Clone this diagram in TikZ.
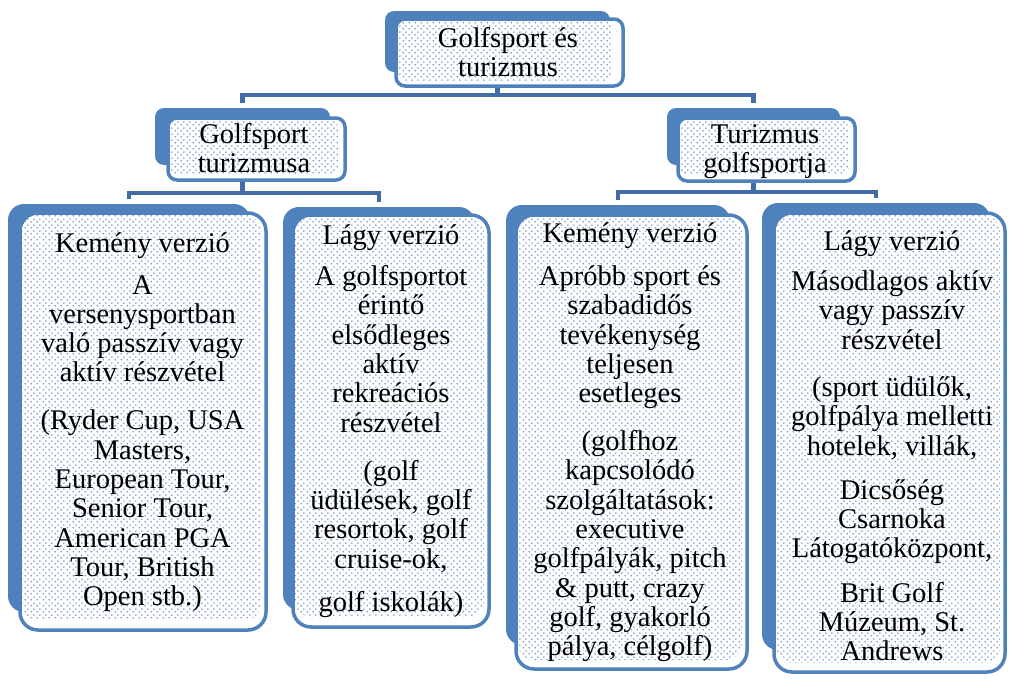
\documentclass[tikz,border=0pt]{standalone}
\usepackage{fontspec}
\setmainfont{Liberation Serif}
\usetikzlibrary{fit,patterns.meta}

\definecolor{boxblue}{RGB}{79,129,189}
\definecolor{linkblue}{RGB}{66,108,166}
\definecolor{dotblue}{RGB}{112,150,210}

% light staggered dot texture for the box interiors
\tikzdeclarepattern{
  name=softdots,
  type=uncolored,
  bottom left={(0pt,0pt)},
  top right={(6pt,6pt)},
  tile size={(6pt,6pt)},
  code={
    \pgfpathcircle{\pgfqpoint{1.5pt}{1.5pt}}{1.0pt}
    \pgfpathcircle{\pgfqpoint{4.5pt}{4.5pt}}{1.0pt}
    \pgfusepath{fill}
  }
}

\newcommand\lineraise{\rule{0pt}{22pt}}

\tikzset{
  backshape/.style={fill=boxblue, draw=none, inner sep=0pt, outer sep=0pt},
  frontbox/.style={fill=white, draw=boxblue, line width=3.5pt, inner sep=0pt, outer sep=0pt},
  dotarea/.style={pattern=softdots, pattern color=dotblue, draw=none, inner sep=0pt, outer sep=0pt},
  boxtext/.style={align=center, inner sep=0pt, anchor=north,
    font=\fontsize{28.5}{29.3}\selectfont},
  conn/.style={draw=linkblue, line width=4.5pt},
}

\begin{document}
\begin{tikzpicture}[x=1pt,y=-1pt]
\useasboundingbox (0,0) rectangle (1010,678);

% ---- connectors (drawn first, boxes sit on top) ----
\coordinate (busTop) at (497.5,95);
\coordinate (busL) at (242.5,193);
\coordinate (busR) at (753.5,192);

\node[backshape, rounded corners=9pt, fit={(385,11) (610,72)}] (topB) {};
\node[backshape, rounded corners=9pt, fit={(155,108) (330,165)}] (l2lB) {};
\node[backshape, rounded corners=9pt, fit={(667,108) (840,165)}] (l2rB) {};
\node[backshape, rounded corners=16pt, fit={(8,204) (250,612)}] (k1B) {};
\node[backshape, rounded corners=16pt, fit={(283,207) (475,610)}] (l1B) {};
\node[backshape, rounded corners=16pt, fit={(506,205) (730,645)}] (k2B) {};
\node[backshape, rounded corners=16pt, fit={(762,203) (990,650)}] (l2B) {};

\draw[conn] (topB.south) -- (topB.south |- busTop);
\draw[conn] ([yshift=5pt]l2lB.north) |- (busTop) -| ([yshift=5pt]l2rB.north);
\draw[conn] (l2lB.south) -- (l2lB.south |- busL);
\draw[conn] ([yshift=5pt]k1B.north) |- (busL) -| ([yshift=5pt]l1B.north);
\draw[conn] (l2rB.south) -- (l2rB.south |- busR);
\draw[conn] ([yshift=5pt]k2B.north) |- (busR) -| ([yshift=5pt]l2B.north);

% ---- front boxes with dotted interiors ----
\node[frontbox, rounded corners=9pt, fit={(396,19) (623,86)}] (topF) {};
\node[dotarea, rounded corners=7pt, fit={(398,21) (612,81)}] (topD) {};

\node[frontbox, rounded corners=9pt, fit={(168,118) (345,180)}] (l2lF) {};
\node[dotarea, rounded corners=7pt, fit={(170,120) (338,174)}] (l2lD) {};

\node[frontbox, rounded corners=9pt, fit={(678,118) (855,181)}] (l2rF) {};
\node[dotarea, rounded corners=7pt, fit={(680,120) (848,175)}] (l2rD) {};

\node[frontbox, rounded corners=18pt, fit={(20,213) (266,630)}] (k1F) {};
\node[dotarea, rounded corners=16pt, fit={(22,215) (261,620)}] (k1D) {};

\node[frontbox, rounded corners=18pt, fit={(293,215) (489,627)}] (l1F) {};
\node[dotarea, rounded corners=16pt, fit={(295,217) (484,617)}] (l1D) {};

\node[frontbox, rounded corners=18pt, fit={(516,215) (747,669)}] (k2F) {};
\node[dotarea, rounded corners=16pt, fit={(518,217) (742,660)}] (k2D) {};

\node[frontbox, rounded corners=18pt, fit={(774,213) (1005,672)}] (l2F) {};
\node[dotarea, rounded corners=16pt, fit={(776,215) (1000,663)}] (l2D) {};

% ---- texts ----
\node[boxtext] (topT) at (508,25) {\lineraise Golfsport és\\turizmus};
\node[boxtext] (l2lT) at (254,121) {\lineraise Golfsport\\turizmusa};
\node[boxtext] (l2rT) at (765,121) {\lineraise Turizmus\\golfsportja};

\node[boxtext] (k1T) at (142.5,230.5) {\lineraise Kemény verzió\\[12pt]
  A\\ versenysportban\\ való passzív vagy\\ aktív részvétel\\[18.6pt]
  (Ryder Cup, USA\\ Masters,\\ European Tour,\\ Senior Tour,\\
  American PGA\\ Tour, British\\ Open stb.)};

\node[boxtext] (l1T) at (391,222) {\lineraise Lágy verzió\\[12pt]
  A golfsportot\\ érintő\\ elsődleges\\ aktív\\ rekreációs\\ részvétel\\[19pt]
  (golf\\ üdülések, golf\\ resortok, golf\\ cruise-ok,\\[14pt]
  golf iskolák)};

\node[boxtext] (k2T) at (630,220) {\lineraise Kemény verzió\\[14pt]
  Apróbb sport és\\ szabadidős\\ tevékenység\\ teljesen\\ esetleges\\[18.5pt]
  (golfhoz\\ kapcsolódó\\ szolgáltatások:\\ executive\\ golfpályák, pitch\\
  \& putt, crazy\\ golf, gyakorló\\ pálya, célgolf)};

\node[boxtext] (l2T) at (892,228) {\lineraise Lágy verzió\\[11pt]
  Másodlagos aktív\\ vagy passzív\\ részvétel\\[18pt]
  (sport üdülők,\\ golfpálya melletti\\ hotelek, villák,\\[15pt]
  Dicsőség\\ Csarnoka\\ Látogatóközpont,\\[15pt]
  Brit Golf\\ Múzeum, St.\\ Andrews};
\end{tikzpicture}
\end{document}
